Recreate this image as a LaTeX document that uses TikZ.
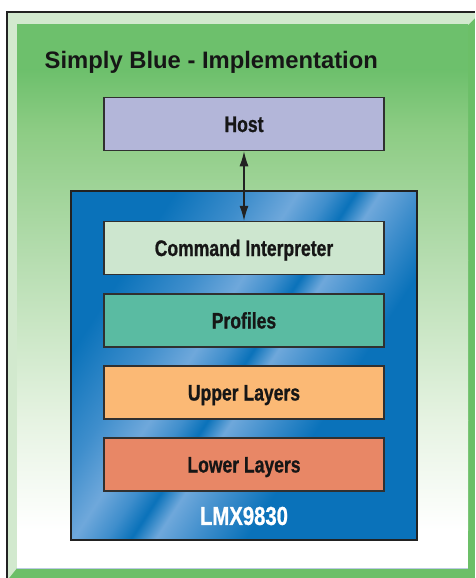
\documentclass[tikz,border=0pt]{standalone}
\usepackage{fontspec}
\setmainfont{Liberation Sans}
\newfontfamily\condfont[FakeStretch=0.78,FakeBold=0.8]{Liberation Sans}
\usetikzlibrary{arrows.meta}
\definecolor{framedark}{HTML}{222222}
\definecolor{bevlight}{HTML}{D2E9CE}
\definecolor{bevgreen}{HTML}{6CBF68}
\definecolor{gA}{HTML}{6DC06C}
\definecolor{gB}{HTML}{8DCC84}
\definecolor{gC}{HTML}{B6DDB0}
\definecolor{gD}{HTML}{E6F3E2}
\definecolor{edgeblue}{HTML}{BCCBE2}
\definecolor{bdark}{HTML}{0A72BA}
\definecolor{blight}{HTML}{6FA8DB}
\definecolor{bmid}{HTML}{3F8ECC}
\definecolor{hostfill}{HTML}{B3B6D9}
\definecolor{cifill}{HTML}{CDE6CF}
\definecolor{proffill}{HTML}{5ABBA2}
\definecolor{upfill}{HTML}{FBB975}
\definecolor{lowfill}{HTML}{E88766}
\definecolor{boxline}{HTML}{303030}
\definecolor{txt}{HTML}{161616}
\pgfdeclarehorizontalshading{bluestripes}{100bp}{color(0bp)=(bdark); color(28bp)=(bdark); color(37bp)=(bmid); color(43bp)=(blight); color(47bp)=(bmid); color(50bp)=(bdark); color(53bp)=(blight); color(58bp)=(bmid); color(64bp)=(bdark); color(100bp)=(bdark)}
\tikzset{
  layerbox/.style={draw=boxline, line width=1.5pt, minimum width=280pt, minimum height=53pt, inner sep=0pt,
     text height=16pt, text depth=0pt,
     font=\condfont\bfseries\fontsize{22.5}{24}\selectfont, text=txt},
  linkarrow/.style={{Latex[length=15pt,width=9pt]}-{Latex[length=15pt,width=9pt]}, line width=1.2pt, draw=framedark}
}
\begin{document}
\begin{tikzpicture}[x=1pt,y=-1pt]
\useasboundingbox (0,0) rectangle (475,578);
\fill[white] (0,0) rectangle (475,578);
% frame base (right/bottom bevel)
\fill[bevgreen] (7,12) rectangle (475,578);
% light bevel top/left
\fill[bevlight] (8,13) -- (475,13) -- (475,18) -- (468,25) -- (17,25) -- (17,568) -- (9,578) -- (8,578) -- cycle;
% inner gradient
\shade[top color=gA, bottom color=gA] (17,25) rectangle (468,70);
\shade[top color=gA, bottom color=gB] (17,70) rectangle (468,130);
\shade[top color=gB, bottom color=gC] (17,130) rectangle (468,260);
\shade[top color=gC, bottom color=gD] (17,260) rectangle (468,420);
\shade[top color=gD, bottom color=white] (17,420) rectangle (468,530);
\fill[white] (17,530) rectangle (468,568);
\draw[edgeblue, line width=1.2pt] (17,568.6) -- (468,568.6);
% dark frame line
\draw[framedark, line width=2pt] (7,578) -- (7,12) -- (475,12);
% title
\node[anchor=west, font=\bfseries\fontsize{23.8}{26}\selectfont, text=txt, inner sep=0pt] (title) at (44.5,62) {Simply Blue - Implementation};
% chip box
\node[draw=framedark, line width=2pt, minimum width=346pt, minimum height=349pt, inner sep=0pt, shading=bluestripes, shading angle=-33] (chip) at (243.5,365.5) {};
\node[font=\condfont\bfseries\fontsize{26}{28}\selectfont, text=white, inner sep=0pt] (chiplabel) at (244,516) {LMX9830};
% layer boxes
\node[layerbox, fill=hostfill] (host) at (244,124) {Host};
\node[layerbox, fill=cifill] (ci) at (244,248) {Command Interpreter};
\node[layerbox, fill=proffill] (prof) at (244,320.5) {Profiles};
\node[layerbox, fill=upfill] (up) at (244,392.5) {Upper Layers};
\node[layerbox, fill=lowfill] (low) at (244,464.5) {Lower Layers};
\draw[linkarrow] (host.south) -- (ci.north);
\end{tikzpicture}
\end{document}
